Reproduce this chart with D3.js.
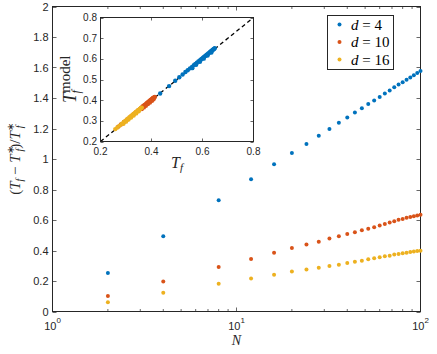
<!DOCTYPE html>
<html>
<head>
<meta charset="utf-8">
<script src="https://cdn.jsdelivr.net/npm/d3@7"></script>
<style>
  body { margin: 0; background: #fff; }
  svg { display: block; }
</style>
</head>
<body>
<svg id="chart" width="437" height="354"></svg>
<script>

// main plot: relative error vs N, one series per d
var sizes = [2, 4, 8, 12, 16, 20, 24, 28, 32, 36, 40, 44, 48, 52, 56, 60, 64, 68, 72, 76, 80, 84, 88, 92, 96, 100];
var errD4 = [0.252, 0.493, 0.730, 0.868, 0.965, 1.040, 1.099, 1.153, 1.197, 1.237, 1.272, 1.305, 1.333,
             1.360, 1.384, 1.406, 1.430, 1.449, 1.471, 1.489, 1.504, 1.520, 1.535, 1.550, 1.564, 1.577];
var errD10 = [0.101, 0.197, 0.291, 0.344, 0.386, 0.417, 0.439, 0.458, 0.478, 0.493, 0.509, 0.520, 0.533,
              0.542, 0.553, 0.564, 0.574, 0.583, 0.592, 0.601, 0.607, 0.614, 0.620, 0.625, 0.630, 0.634];
var errD16 = [0.061, 0.123, 0.182, 0.217, 0.241, 0.263, 0.276, 0.287, 0.298, 0.307, 0.318, 0.327, 0.333,
              0.342, 0.349, 0.355, 0.362, 0.366, 0.373, 0.377, 0.382, 0.386, 0.390, 0.393, 0.397, 0.399];

// inset: model prediction vs measured Tf
var insetTfD4 = [0.434, 0.469, 0.493, 0.509, 0.522, 0.533, 0.542, 0.551, 0.559, 0.566, 0.572, 0.578, 0.584,
                 0.589, 0.594, 0.598, 0.602, 0.606, 0.610, 0.613, 0.617, 0.620, 0.623, 0.626, 0.629, 0.631,
                 0.634, 0.636, 0.638, 0.640, 0.642, 0.644, 0.646, 0.648, 0.560, 0.575, 0.590, 0.605, 0.620, 0.635];
var insetModelD4 = [0.432, 0.468, 0.494, 0.511, 0.524, 0.536, 0.545, 0.554, 0.561, 0.569, 0.575, 0.581, 0.587,
                    0.592, 0.597, 0.601, 0.605, 0.609, 0.613, 0.616, 0.620, 0.623, 0.626, 0.629, 0.632, 0.634,
                    0.637, 0.639, 0.641, 0.643, 0.645, 0.647, 0.649, 0.651, 0.555, 0.571, 0.586, 0.601, 0.616, 0.631];
var insetTfD10 = [0.270, 0.280, 0.292, 0.305, 0.318, 0.330, 0.340, 0.348, 0.355, 0.360, 0.365, 0.369, 0.373,
                  0.377, 0.381, 0.384, 0.387, 0.390, 0.393, 0.396, 0.398, 0.401, 0.403, 0.405, 0.407, 0.409,
                  0.411, 0.413, 0.362, 0.370, 0.378, 0.386, 0.394, 0.402, 0.408];
var insetModelD10 = [0.272, 0.282, 0.294, 0.307, 0.320, 0.333, 0.343, 0.351, 0.358, 0.364, 0.369, 0.373, 0.377,
                     0.381, 0.385, 0.388, 0.391, 0.394, 0.397, 0.400, 0.402, 0.405, 0.407, 0.409, 0.411, 0.412,
                     0.414, 0.415, 0.357, 0.365, 0.373, 0.381, 0.389, 0.397, 0.404];
var insetTfD16 = [0.258, 0.266, 0.275, 0.284, 0.292, 0.298, 0.304, 0.309, 0.313, 0.317, 0.321, 0.324, 0.327,
                  0.330, 0.333, 0.336, 0.339, 0.341, 0.344, 0.346, 0.349, 0.351, 0.354, 0.356, 0.359, 0.362,
                  0.290, 0.300, 0.310, 0.320, 0.330, 0.340, 0.350];
var insetModelD16 = [0.260, 0.268, 0.277, 0.286, 0.295, 0.301, 0.307, 0.312, 0.316, 0.320, 0.324, 0.327, 0.330,
                     0.333, 0.336, 0.339, 0.342, 0.344, 0.347, 0.349, 0.352, 0.354, 0.357, 0.359, 0.362, 0.364,
                     0.286, 0.296, 0.306, 0.316, 0.326, 0.336, 0.346];

var seriesNames = ['d = 4', 'd = 10', 'd = 16'];
var colors = ['#0072BD', '#D95319', '#EDB120'];
var yTicks = [0, 0.2, 0.4, 0.6, 0.8, 1, 1.2, 1.4, 1.6, 1.8, 2];
var insetXTicks = [0.2, 0.4, 0.6, 0.8];
var insetYTicks = [0.2, 0.3, 0.4, 0.5, 0.6, 0.7, 0.8];

var axisColor = '#262626';
var sans = 'Liberation Sans, Arial, sans-serif';
var serif = 'Liberation Serif, Times New Roman, serif';

var svg = d3.select('#chart');

// ---------- main axes ----------
var x = d3.scaleLog().domain([1, 100]).range([52.5, 420.5]);
var y = d3.scaleLinear().domain([0, 2]).range([311.5, 6.5]);

var main = svg.append('g');

var xTickVals = x.ticks();
var isMajor = v => Math.abs(Math.log10(v) - Math.round(Math.log10(v))) < 1e-9;

// ticks on bottom + top (inward)
main.append('g')
    .selectAll('line')
    .data(xTickVals.concat(xTickVals))
    .enter()
    .append('line')
    .attr('x1', d => x(d))
    .attr('x2', d => x(d))
    .attr('y1', (d, i) => i < xTickVals.length ? y(0) : y(2))
    .attr('y2', (d, i) => {
      var len = isMajor(d) ? 4 : 2.5;
      return i < xTickVals.length ? y(0) - len : y(2) + len;
    })
    .attr('stroke', axisColor)
    .attr('stroke-width', 0.7);

// ticks on left + right
main.append('g')
    .selectAll('line')
    .data(yTicks.concat(yTicks))
    .enter()
    .append('line')
    .attr('y1', d => Math.round(y(d)) + 0.5)
    .attr('y2', d => Math.round(y(d)) + 0.5)
    .attr('x1', (d, i) => i < yTicks.length ? x(1) : x(100))
    .attr('x2', (d, i) => i < yTicks.length ? x(1) + 4 : x(100) - 4)
    .attr('stroke', axisColor)
    .attr('stroke-width', 0.7);

main.append('rect')
    .attr('x', x(1))
    .attr('y', y(2))
    .attr('width', x(100) - x(1))
    .attr('height', y(0) - y(2))
    .attr('fill', 'none')
    .attr('stroke', axisColor)
    .attr('stroke-width', 1);

main.append('g')
    .selectAll('text')
    .data(yTicks)
    .enter()
    .append('text')
    .attr('x', 48.5)
    .attr('y', d => y(d) + 4)
    .attr('text-anchor', 'end')
    .attr('font-family', sans)
    .attr('font-size', 11)
    .attr('fill', axisColor)
    .text(d => d);

var xLab = main.append('g')
    .selectAll('text')
    .data(xTickVals.filter(isMajor))
    .enter()
    .append('text')
    .attr('x', d => x(d))
    .attr('y', 329.5)
    .attr('text-anchor', 'middle')
    .attr('font-family', sans)
    .attr('font-size', 11)
    .attr('fill', axisColor);
xLab.append('tspan').text('10');
xLab.append('tspan').attr('dy', -7).attr('font-size', 8).text(d => Math.round(Math.log10(d)));

main.append('text')
    .attr('x', x(10))
    .attr('y', 345)
    .attr('text-anchor', 'middle')
    .attr('font-family', serif)
    .attr('font-style', 'italic')
    .attr('font-size', 14)
    .attr('fill', axisColor)
    .text('N');

// y label (T_f - T_f^*)/T_f^*
var yl = main.append('text')
    .attr('transform', 'translate(20,' + ((y(0) + y(2)) / 2) + ') rotate(-90)')
    .attr('text-anchor', 'middle')
    .attr('font-family', serif)
    .attr('font-size', 15)
    .attr('fill', axisColor);
yl.append('tspan').text('(');
yl.append('tspan').attr('font-style', 'italic').text('T');
yl.append('tspan').attr('font-style', 'italic').attr('font-size', 10).attr('dy', 3).text('f');
yl.append('tspan').attr('dy', -3).text(' − ');
yl.append('tspan').attr('font-style', 'italic').text('T');
yl.append('tspan').attr('font-size', 10).attr('dy', -6).text('∗');
yl.append('tspan').attr('font-style', 'italic').attr('font-size', 10).attr('dx', -5).attr('dy', 9).text('f');
yl.append('tspan').attr('dy', -3).text(')/');
yl.append('tspan').attr('font-style', 'italic').text('T');
yl.append('tspan').attr('font-size', 10).attr('dy', -6).text('∗');
yl.append('tspan').attr('font-style', 'italic').attr('font-size', 10).attr('dx', -5).attr('dy', 9).text('f');

// data points
[errD4, errD10, errD16].forEach((vals, k) => {
  main.append('g')
      .selectAll('circle')
      .data(vals)
      .enter()
      .append('circle')
      .attr('cx', (d, i) => x(sizes[i]))
      .attr('cy', d => y(d))
      .attr('r', 2)
      .attr('fill', colors[k]);
});

// legend
var leg = main.append('g');
leg.append('rect')
    .attr('x', 327.5).attr('y', 15.5)
    .attr('width', 66).attr('height', 54)
    .attr('fill', '#fff')
    .attr('stroke', axisColor)
    .attr('stroke-width', 1);
seriesNames.forEach((name, k) => {
  var cy = 24.5 + k * 17.5;
  leg.append('circle').attr('cx', 339.5).attr('cy', cy).attr('r', 2).attr('fill', colors[k]);
  var t = leg.append('text')
      .attr('x', 351)
      .attr('y', cy + 5)
      .attr('font-family', serif)
      .attr('font-size', 15)
      .attr('fill', '#000');
  var parts = name.split(' = ');
  t.append('tspan').attr('font-style', 'italic').text(parts[0]);
  t.append('tspan').text(' = ' + parts[1]);
});

// ---------- inset ----------
var ix = d3.scaleLinear().domain([0.2, 0.8]).range([100.5, 253.5]);
var iy = d3.scaleLinear().domain([0.2, 0.8]).range([141.5, 17.5]);

var inset = svg.append('g');

inset.append('rect')
    .attr('x', ix(0.2)).attr('y', iy(0.8))
    .attr('width', ix(0.8) - ix(0.2)).attr('height', iy(0.2) - iy(0.8))
    .attr('fill', '#fff');

inset.append('line')
    .attr('x1', ix(0.2)).attr('y1', iy(0.2))
    .attr('x2', ix(0.8)).attr('y2', iy(0.8))
    .attr('stroke', '#000')
    .attr('stroke-width', 1.3)
    .attr('stroke-dasharray', '4,3');

[[insetTfD4, insetModelD4], [insetTfD10, insetModelD10], [insetTfD16, insetModelD16]].forEach((pair, k) => {
  inset.append('g')
      .selectAll('circle')
      .data(pair[0])
      .enter()
      .append('circle')
      .attr('cx', d => ix(d))
      .attr('cy', (d, i) => iy(pair[1][i]))
      .attr('r', 2.2)
      .attr('fill', colors[k]);
});

inset.append('g')
    .selectAll('line')
    .data(insetXTicks.concat(insetXTicks))
    .enter()
    .append('line')
    .attr('x1', d => ix(d)).attr('x2', d => ix(d))
    .attr('y1', (d, i) => i < insetXTicks.length ? iy(0.2) : iy(0.8))
    .attr('y2', (d, i) => i < insetXTicks.length ? iy(0.2) - 3 : iy(0.8) + 3)
    .attr('stroke', axisColor)
    .attr('stroke-width', 0.7);

inset.append('g')
    .selectAll('line')
    .data(insetYTicks.concat(insetYTicks))
    .enter()
    .append('line')
    .attr('y1', d => Math.round(iy(d)) + 0.5).attr('y2', d => Math.round(iy(d)) + 0.5)
    .attr('x1', (d, i) => i < insetYTicks.length ? ix(0.2) : ix(0.8))
    .attr('x2', (d, i) => i < insetYTicks.length ? ix(0.2) + 3 : ix(0.8) - 3)
    .attr('stroke', axisColor)
    .attr('stroke-width', 0.7);

inset.append('rect')
    .attr('x', ix(0.2)).attr('y', iy(0.8))
    .attr('width', ix(0.8) - ix(0.2)).attr('height', iy(0.2) - iy(0.8))
    .attr('fill', 'none')
    .attr('stroke', axisColor)
    .attr('stroke-width', 1);

inset.append('g')
    .selectAll('text')
    .data(insetXTicks)
    .enter()
    .append('text')
    .attr('x', d => ix(d))
    .attr('y', 155)
    .attr('text-anchor', 'middle')
    .attr('font-family', sans)
    .attr('font-size', 10)
    .attr('fill', axisColor)
    .text(d => d.toFixed(1));

inset.append('g')
    .selectAll('text')
    .data(insetYTicks)
    .enter()
    .append('text')
    .attr('x', 97)
    .attr('y', d => iy(d) + 3.5)
    .attr('text-anchor', 'end')
    .attr('font-family', sans)
    .attr('font-size', 10)
    .attr('fill', axisColor)
    .text(d => d.toFixed(1));

var ixl = inset.append('text')
    .attr('x', (ix(0.2) + ix(0.8)) / 2)
    .attr('y', 168)
    .attr('text-anchor', 'middle')
    .attr('font-family', serif)
    .attr('font-size', 16)
    .attr('fill', axisColor);
ixl.append('tspan').attr('font-style', 'italic').text('T');
ixl.append('tspan').attr('font-style', 'italic').attr('font-size', 11).attr('dy', 3).text('f');

// rotated label T_f^model, drawn from its bottom end upward
var iyl = inset.append('text')
    .attr('transform', 'translate(76,103) rotate(-90)')
    .attr('text-anchor', 'start')
    .attr('font-family', serif)
    .attr('font-size', 18)
    .attr('fill', axisColor);
iyl.append('tspan').attr('font-style', 'italic').text('T');
iyl.append('tspan').attr('font-size', 15).attr('dy', -6).text('model');
iyl.append('tspan').attr('font-style', 'italic').attr('font-size', 12).attr('dx', -38).attr('dy', 10).text('f');

</script>
</body>
</html>
